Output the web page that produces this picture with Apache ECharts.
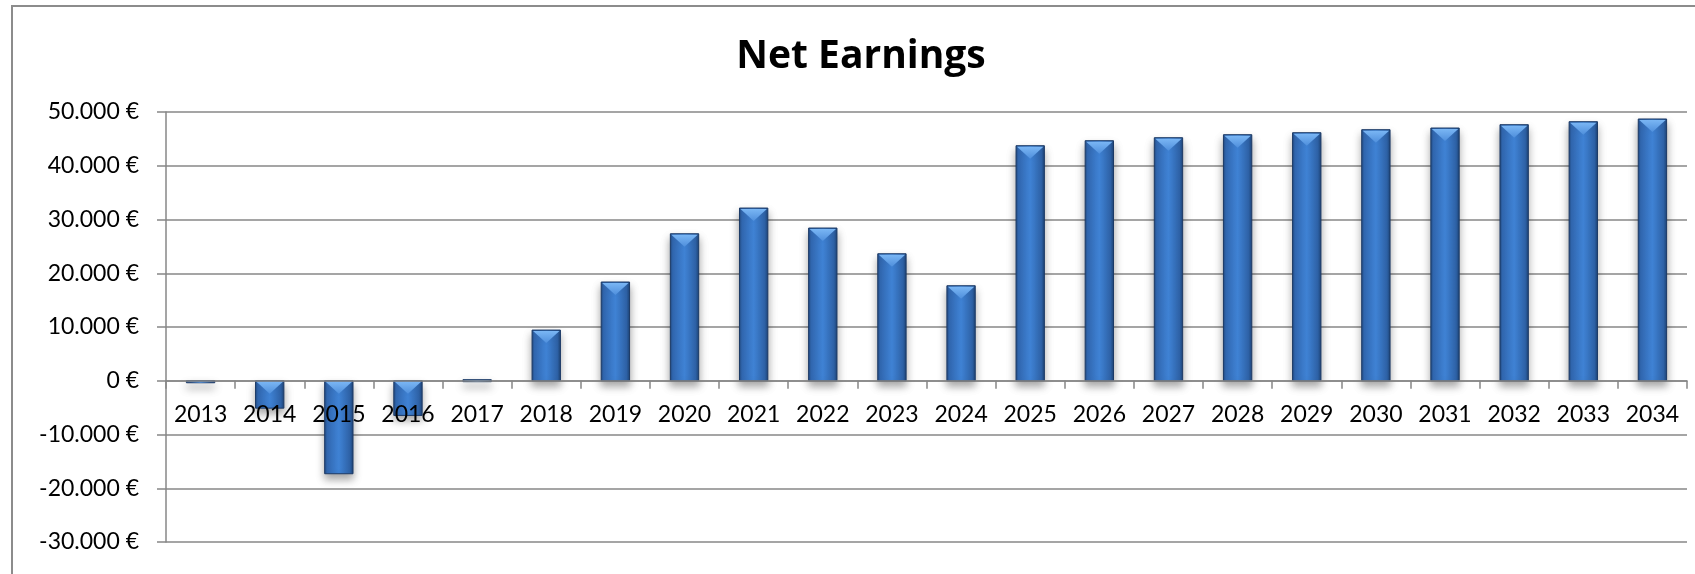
<!DOCTYPE html>
<html>
<head>
<meta charset="utf-8">
<title>Net Earnings</title>
<script src="https://cdn.jsdelivr.net/npm/echarts@6/dist/echarts.min.js"></script>
<style>
  html, body { margin: 0; padding: 0; background: #ffffff; }
  #chart { width: 1695px; height: 574px; }
</style>
</head>
<body>
<div id="chart"></div>
<script>
// Years on the category axis
const years = ['2013', '2014', '2015', '2016', '2017', '2018', '2019', '2020', '2021', '2022', '2023',
               '2024', '2025', '2026', '2027', '2028', '2029', '2030', '2031', '2032', '2033', '2034'];

// Net earnings per year, in euros
const netEarnings = [-250, -5100, -17300, -6450, 200, 9430, 18370, 27350, 32130, 28410, 23630,
                     17680, 43730, 44660, 45220, 45780, 46150, 46710, 47020, 47640, 48200, 48700];

// Value axis range and step
const yMin = -30000;
const yMax = 50000;
const yStep = 10000;

const FONT = 'Lato, "Noto Sans", sans-serif';
const TITLE_FONT = '"Open Sans", Lato, sans-serif';
const GRID_GREY = '#878787';

// Plot area
const CHART_H = 574;
const GRID_TOP = 112;
const GRID_BOTTOM = 32;
const plotHeight = CHART_H - GRID_TOP - GRID_BOTTOM;
// Lift the category axis from the bottom edge up to the zero line
const zeroLift = (0 - yMin) / (yMax - yMin) * plotHeight;

// German style currency label: 50.000 €
function euro(v) {
  const sign = v < 0 ? '-' : '';
  const s = String(Math.abs(Math.round(v))).replace(/\B(?=(\d{3})+(?!\d))/g, '.');
  return sign + s + ' €';
}

const barFill = new echarts.graphic.LinearGradient(0, 0, 1, 0, [
  { offset: 0, color: '#22497f' },
  { offset: 0.1, color: '#3269b3' },
  { offset: 0.5, color: '#3f82d4' },
  { offset: 0.88, color: '#2f64aa' },
  { offset: 1, color: '#1d4274' }
]);
const bevelFill = new echarts.graphic.LinearGradient(0, 0, 0, 1, [
  { offset: 0, color: '#7ab6f4' },
  { offset: 1, color: '#4f8fdc' }
]);

const chart = echarts.init(document.getElementById('chart'), null, { renderer: 'canvas' });

chart.setOption({
  animation: false,
  backgroundColor: '#ffffff',
  graphic: [
    {
      type: 'rect',
      z: -10,
      silent: true,
      shape: { x: 12, y: 6, width: 1720, height: 620 },
      style: { fill: 'none', stroke: '#8c8c8c', lineWidth: 2 }
    },
    {
      type: 'text',
      x: 861,
      y: 57,
      style: {
        text: 'Net Earnings',
        font: 'bold 39px ' + TITLE_FONT,
        fill: '#000000',
        textAlign: 'center',
        textVerticalAlign: 'middle'
      }
    }
  ],
  grid: { left: 166, right: 8, top: GRID_TOP, bottom: GRID_BOTTOM, containLabel: false },
  xAxis: {
    type: 'category',
    data: years,
    boundaryGap: true,
    position: 'bottom',
    offset: -zeroLift,
    z: 5,
    axisLine: { onZero: false, lineStyle: { color: GRID_GREY, width: 1.5 } },
    axisTick: { show: true, interval: 0, length: 8, alignWithLabel: false, lineStyle: { color: GRID_GREY, width: 1.5 } },
    axisLabel: { interval: 0, margin: 22, color: '#000000', fontFamily: FONT, fontSize: 23 },
    splitLine: { show: false }
  },
  yAxis: {
    type: 'value',
    min: yMin,
    max: yMax,
    interval: yStep,
    axisLine: { show: true, lineStyle: { color: GRID_GREY, width: 1.5 } },
    axisTick: { show: true, length: 9, lineStyle: { color: GRID_GREY, width: 1.5 } },
    axisLabel: { margin: 27, color: '#000000', fontFamily: FONT, fontSize: 23, formatter: euro },
    splitLine: { show: true, lineStyle: { color: GRID_GREY, width: 1.5 } }
  },
  series: [
    {
      type: 'custom',
      name: 'Net Earnings',
      data: netEarnings.map((v, i) => [i, v]),
      encode: { x: 0, y: 1 },
      z: 2,
      renderItem: function (params, api) {
        const i = api.value(0);
        const v = api.value(1);
        const w = api.size([1, 0])[0] * 0.41;
        const p0 = api.coord([i, 0]);
        const p1 = api.coord([i, v]);
        const x = p0[0] - w / 2;
        const yTop = Math.min(p0[1], p1[1]);
        const h = Math.max(Math.abs(p1[1] - p0[1]), 2);
        const bev = Math.min(12, h - 1);
        return {
          type: 'group',
          children: [
            {
              type: 'rect',
              shape: { x: x, y: yTop, width: w, height: h },
              style: {
                fill: barFill,
                stroke: '#1c3a66',
                lineWidth: 1,
                shadowBlur: 8,
                shadowOffsetY: 5,
                shadowColor: 'rgba(0,0,0,0.35)'
              }
            },
            {
              type: 'polygon',
              shape: { points: [[x + 1, yTop + 1], [x + w - 1, yTop + 1], [x + w / 2, yTop + 1 + bev]] },
              style: { fill: bevelFill }
            }
          ]
        };
      }
    }
  ]
});
</script>
</body>
</html>
